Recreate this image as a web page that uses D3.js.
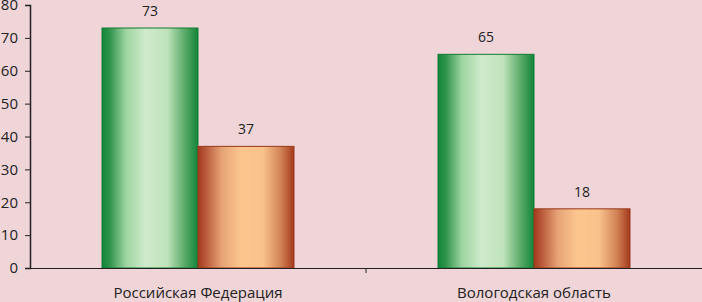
<!DOCTYPE html>
<html>
<head>
<meta charset="utf-8">
<script src="https://cdn.jsdelivr.net/npm/d3@7"></script>
<style>
  body { margin: 0; background: #efd5d8; }
  svg { display: block; }
  text { font-family: "Open Sans", sans-serif; fill: #222; }
</style>
</head>
<body>
<svg width="702" height="302"></svg>
<script>
var width = 702, height = 302;

var categories = ["Российская Федерация", "Вологодская область"];
var series1 = [73, 65];
var series2 = [37, 18];
var yTicks = [0, 10, 20, 30, 40, 50, 60, 70, 80];

var margin = {left: 30, right: 0, top: 5, bottom: 34};

var svg = d3.select("svg");
svg.append("rect").attr("width", width).attr("height", height).attr("fill", "#efd5d8");

var defs = svg.append("defs");
function grad(id, stops) {
    var g = defs.append("linearGradient").attr("id", id)
        .attr("x1", "0%").attr("x2", "100%").attr("y1", "0%").attr("y2", "0%");
    stops.forEach(function(s) {
        g.append("stop").attr("offset", s[0]).attr("stop-color", s[1]);
    });
}
grad("gGreen", [["0%", "#12843a"], ["8%", "#2f944b"], ["25%", "#9fd4a2"], ["45%", "#cfeacc"], ["68%", "#bfe3bb"], ["86%", "#5aab68"], ["100%", "#12843a"]]);
grad("gOrange", [["0%", "#a33a1d"], ["8%", "#b9593a"], ["25%", "#e7a477"], ["45%", "#fcc68f"], ["68%", "#f9c18b"], ["86%", "#d28456"], ["100%", "#a33a1d"]]);

var x0 = d3.scaleBand().domain(categories).range([margin.left, width - margin.right]).paddingInner(0).paddingOuter(0);
var x1 = d3.scaleBand().domain([0, 1]).range([0, x0.bandwidth()]).paddingInner(0).paddingOuter(0.75);
var y = d3.scaleLinear().domain([0, 80]).range([height - margin.bottom, margin.top]);

var rows = categories.map(function(c, i) { return {cat: c, vals: [series1[i], series2[i]]}; });
var fills = ["url(#gGreen)", "url(#gOrange)"];
var edges = ["#137a35", "#98381c"];

var groups = svg.selectAll("g.cat").data(rows).join("g")
    .attr("class", "cat")
    .attr("transform", function(d) { return "translate(" + x0(d.cat) + ",0)"; });

groups.each(function(d) {
    var g = d3.select(this);
    d.vals.forEach(function(v, k) {
        g.append("rect")
            .attr("x", x1(k))
            .attr("y", y(v))
            .attr("width", x1.bandwidth())
            .attr("height", y(0) - y(v))
            .attr("fill", fills[k])
            .attr("stroke", edges[k])
            .attr("stroke-width", 1);
        g.append("text")
            .attr("x", x1(k) + x1.bandwidth() / 2)
            .attr("y", y(v) - 12)
            .attr("text-anchor", "middle")
            .style("font-size", "14px")
            .text(v);
    });
});

// y axis
var yAxis = d3.axisLeft(y).tickValues(yTicks).tickSize(5).tickPadding(7);
var ya = svg.append("g").attr("transform", "translate(" + margin.left + ",0)").call(yAxis);
ya.select(".domain").attr("stroke", "#222").attr("stroke-width", 1.5);
ya.selectAll(".tick line").attr("stroke", "#222");
ya.selectAll(".tick text").style("font-size", "15px").attr("fill", "#222");

// x axis
var xAxis = d3.axisBottom(x0).tickSize(0).tickFormat("");
var xa = svg.append("g").attr("transform", "translate(0," + y(0) + ")").call(xAxis);
xa.select(".domain").attr("stroke", "#222").attr("stroke-width", 1.2);
xa.selectAll(".tick").remove();
xa.append("line").attr("x1", x0(categories[1])).attr("x2", x0(categories[1]))
    .attr("y1", 0).attr("y2", 5).attr("stroke", "#222");

svg.selectAll("text.cat").data(categories).join("text")
    .attr("class", "cat")
    .attr("x", function(d) { return x0(d) + x0.bandwidth() / 2; })
    .attr("y", y(0) + 30)
    .attr("text-anchor", "middle")
    .style("font-size", "15px")
    .text(function(d) { return d; });
</script>
</body>
</html>
